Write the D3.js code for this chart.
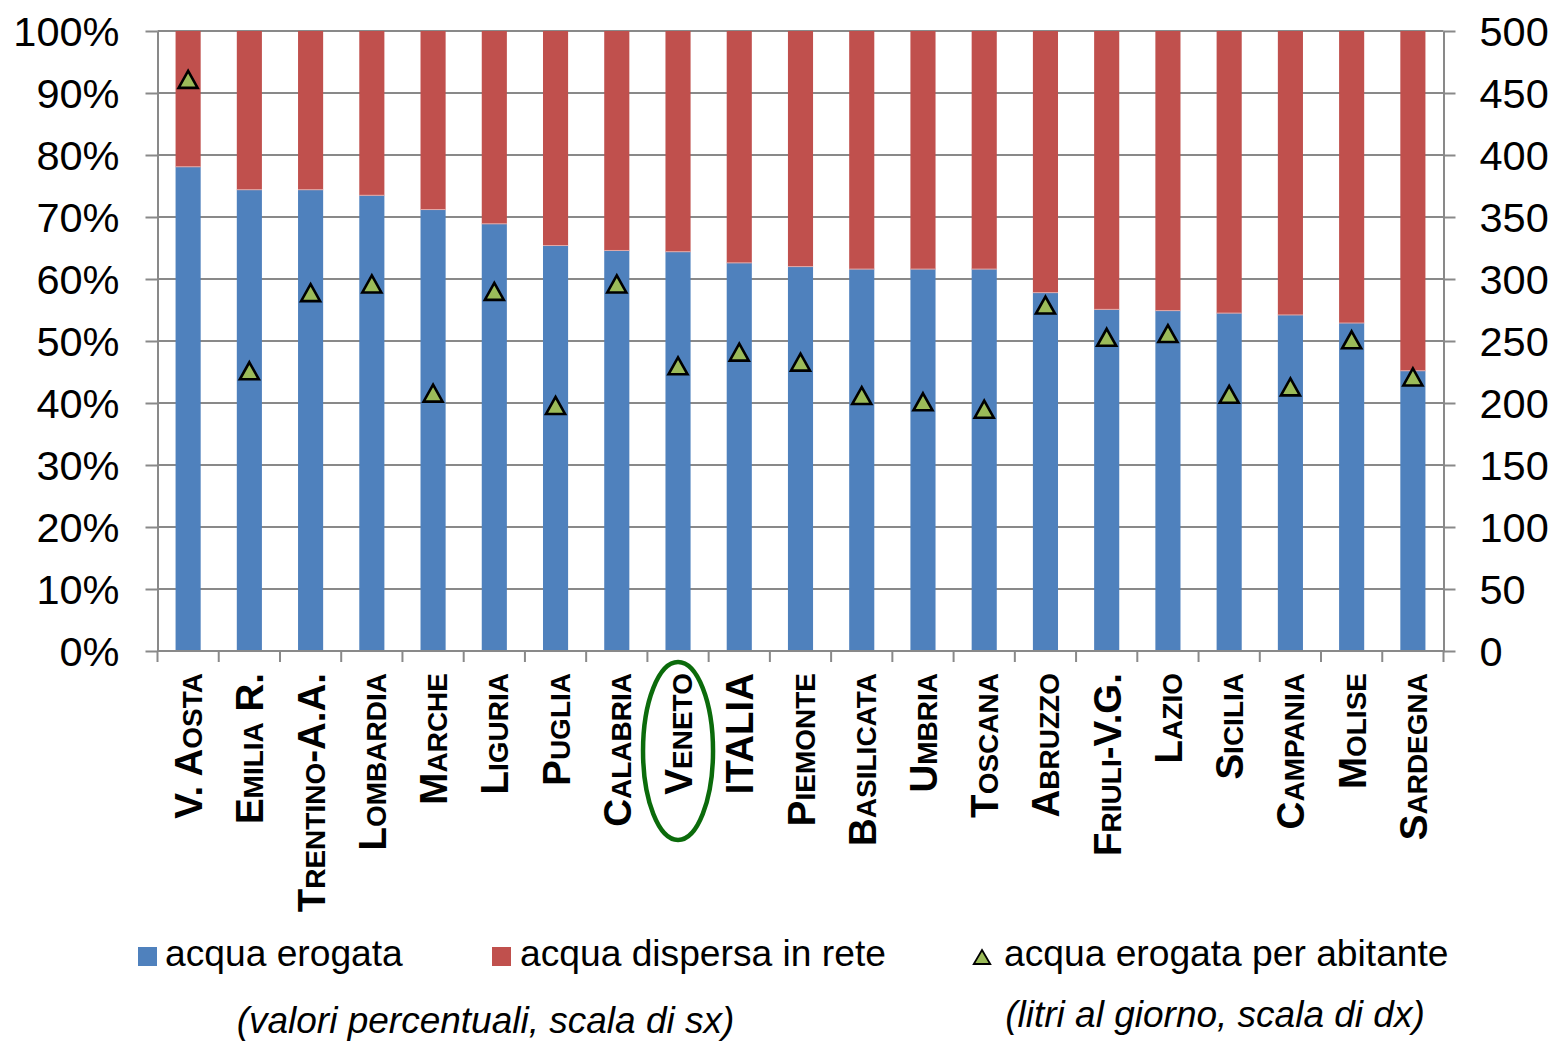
<!DOCTYPE html>
<html>
<head>
<meta charset="utf-8">
<script src="https://cdn.jsdelivr.net/npm/d3@7/dist/d3.min.js"></script>
<style>
  html, body { margin: 0; padding: 0; background: #ffffff; }
  svg { display: block; font-family: "Liberation Sans", Arial, Helvetica, sans-serif; }
</style>
</head>
<body>
<svg id="chart" width="1556" height="1041"></svg>
<script>
// ---- data ----
const categories = ["V. Aosta", "Emilia R.", "Trentino-A.A.", "Lombardia", "Marche", "Liguria", "Puglia",
  "Calabria", "Veneto", "ITALIA", "Piemonte", "Basilicata", "Umbria", "Toscana", "Abruzzo",
  "Friuli-V.G.", "Lazio", "Sicilia", "Campania", "Molise", "Sardegna"];
const erogata = [78.1, 74.4, 74.4, 73.5, 71.2, 68.9, 65.4, 64.6, 64.4, 62.6, 62.0, 61.6, 61.6, 61.6,
  57.8, 55.1, 54.9, 54.5, 54.2, 52.9, 45.2];
const dispersa = [21.9, 25.6, 25.6, 26.5, 28.8, 31.1, 34.6, 35.4, 35.6, 37.4, 38.0, 38.4, 38.4, 38.4,
  42.2, 44.9, 45.1, 45.5, 45.8, 47.1, 54.8];
const perAbitante = [461, 226, 289, 296, 208, 290, 198, 296, 230, 241, 233, 206, 201, 195,
  279, 253, 256, 207, 213, 251, 221];
const leftTicks = [0, 10, 20, 30, 40, 50, 60, 70, 80, 90, 100];
const rightTicks = [0, 50, 100, 150, 200, 250, 300, 350, 400, 450, 500];
const seriesNames = ["acqua erogata", "acqua dispersa in rete", "acqua erogata per abitante"];
const noteLeft = "(valori percentuali, scala di sx)";
const noteRight = "(litri al giorno, scala di dx)";
const highlighted = "Veneto";

// ---- layout ----
const colBlue = "#4f81bd", colRed = "#c0504d", colGreen = "#9bbb59", colGrid = "#898989";
const X0 = 157.5, X1 = 1443.5, Y0 = 651, Y1 = 31;

const svg = d3.select("#chart");

const x = d3.scaleBand().domain(categories).range([X0, X1]).paddingInner(0.59).paddingOuter(0.295);
const yL = d3.scaleLinear().domain([0, 100]).range([Y0, Y1]);
const yR = d3.scaleLinear().domain([0, 500]).range([Y0, Y1]);

// gridlines
svg.append("g").selectAll("line").data(leftTicks.filter(d => d > 0)).join("line")
  .attr("x1", X0).attr("x2", X1)
  .attr("y1", d => yL(d)).attr("y2", d => yL(d))
  .attr("stroke", colGrid).attr("stroke-width", 2);

// bars
const bw = x.bandwidth();
const bars = svg.append("g");
bars.selectAll("rect.ero").data(categories).join("rect")
  .attr("class", "ero")
  .attr("x", d => x(d)).attr("width", bw)
  .attr("y", (d, i) => yL(erogata[i])).attr("height", (d, i) => yL(0) - yL(erogata[i]))
  .attr("fill", colBlue);
bars.selectAll("rect.dis").data(categories).join("rect")
  .attr("class", "dis")
  .attr("x", d => x(d)).attr("width", bw)
  .attr("y", (d, i) => yL(erogata[i] + dispersa[i]))
  .attr("height", (d, i) => yL(erogata[i]) - yL(erogata[i] + dispersa[i]))
  .attr("fill", colRed);
bars.selectAll("line.sep").data(categories).join("line")
  .attr("class", "sep")
  .attr("x1", d => x(d)).attr("x2", d => x(d) + bw)
  .attr("y1", (d, i) => yL(erogata[i])).attr("y2", (d, i) => yL(erogata[i]))
  .attr("stroke", "#e3a9a8").attr("stroke-width", 1);

// left axis
const axL = svg.append("g").attr("transform", `translate(${X0},0)`)
  .call(d3.axisLeft(yL).tickValues(leftTicks).tickSize(12).tickSizeOuter(0).tickPadding(26)
    .tickFormat(d => d + "%"));
// right axis
const axR = svg.append("g").attr("transform", `translate(${X1},0)`)
  .call(d3.axisRight(yR).tickValues(rightTicks).tickSize(12).tickSizeOuter(0).tickPadding(24));
[axL, axR].forEach(a => {
  a.select(".domain").attr("stroke", colGrid).attr("stroke-width", 2);
  a.selectAll(".tick line").attr("stroke", colGrid).attr("stroke-width", 2);
  a.selectAll(".tick text").attr("font-size", 41.5).attr("fill", "#000")
    .attr("font-family", "'Liberation Sans', Arial, sans-serif").attr("dy", "0.36em");
});

// bottom axis line + boundary ticks
const step = x.step();
const xb = svg.append("g");
xb.append("line").attr("x1", X0).attr("x2", X1).attr("y1", Y0).attr("y2", Y0)
  .attr("stroke", colGrid).attr("stroke-width", 2);
xb.selectAll("line.tk").data(d3.range(categories.length + 1)).join("line")
  .attr("class", "tk")
  .attr("x1", i => X0 + i * step).attr("x2", i => X0 + i * step)
  .attr("y1", Y0).attr("y2", Y0 + 11)
  .attr("stroke", colGrid).attr("stroke-width", 2);

// triangles
const tw = 19, th = 17;
const triPath = (w, h) => `M0,${-h / 2}L${w / 2},${h / 2}L${-w / 2},${h / 2}Z`;
svg.append("g").selectAll("path").data(categories).join("path")
  .attr("d", triPath(tw, th))
  .attr("transform", (d, i) => `translate(${x(d) + bw / 2},${yR(perAbitante[i])})`)
  .attr("fill", colGreen).attr("stroke", "#000").attr("stroke-width", 2.6)
  .attr("stroke-linejoin", "miter");

// category labels (small caps emulation)
const bigSize = 38.5, smallSize = 28;
function runs(label) {
  const out = [];
  for (const ch of label) {
    const small = ch !== ch.toUpperCase();
    const last = out[out.length - 1];
    if (last && last.small === small) last.t += ch.toUpperCase();
    else out.push({ small, t: ch.toUpperCase() });
  }
  return out;
}
const lab = svg.append("g");
categories.forEach(c => {
  const t = lab.append("text")
    .attr("transform", `translate(${x(c) + bw / 2 + 14},673) rotate(-90)`)
    .attr("text-anchor", "end").attr("font-weight", "bold").attr("fill", "#000");
  runs(c).forEach(r => {
    t.append("tspan").attr("font-size", r.small ? smallSize : bigSize).text(r.t);
  });
});

// highlight ellipse
svg.append("ellipse")
  .attr("cx", x(highlighted) + bw / 2).attr("cy", 751).attr("rx", 35).attr("ry", 89)
  .attr("fill", "none").attr("stroke", "#0b6b0b").attr("stroke-width", 4.5);

// legend
const leg = svg.append("g").attr("font-size", 37.2).attr("fill", "#000");
leg.append("rect").attr("x", 138).attr("y", 947).attr("width", 19).attr("height", 19).attr("fill", colBlue);
leg.append("text").attr("x", 165).attr("y", 966).text(seriesNames[0]);
leg.append("rect").attr("x", 492).attr("y", 947).attr("width", 19).attr("height", 19).attr("fill", colRed);
leg.append("text").attr("x", 520).attr("y", 966).text(seriesNames[1]);
leg.append("path").attr("d", triPath(16.5, 14)).attr("transform", "translate(982,957)")
  .attr("fill", colGreen).attr("stroke", "#000").attr("stroke-width", 1.8);
leg.append("text").attr("x", 1004).attr("y", 966).text(seriesNames[2]);

const notes = svg.append("g").attr("font-size", 37).attr("font-style", "italic")
  .attr("text-anchor", "middle").attr("fill", "#000");
notes.append("text").attr("x", 485.5).attr("y", 1033).text(noteLeft);
notes.append("text").attr("x", 1215).attr("y", 1027).text(noteRight);
</script>
</body>
</html>
